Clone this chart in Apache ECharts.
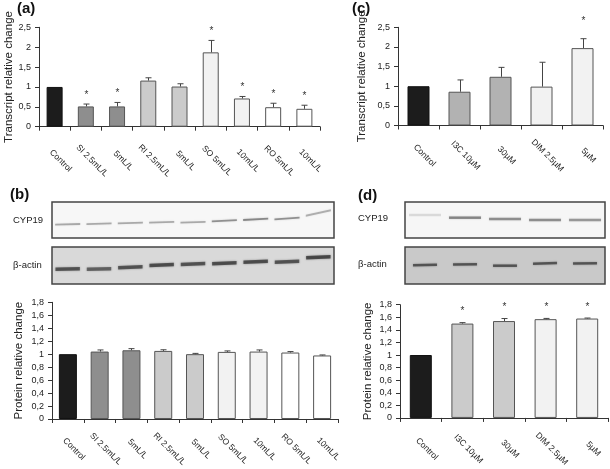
<!DOCTYPE html>
<html><head><meta charset="utf-8">
<script src="https://cdn.jsdelivr.net/npm/echarts@6/dist/echarts.min.js"></script>
<style>html,body{margin:0;padding:0;background:#fff}#c{width:610px;height:469px}</style>
</head><body><div id="c"></div>
<script>
// ---- data ----
const catA = ['Control','SI 2.5mL/L','5mL/L','RI 2.5mL/L','5mL/L','SO 5mL/L','10mL/L','RO 5mL/L','10mL/L'];
const valA = [1, 0.51, 0.51, 1.16, 1.01, 1.87, 0.71, 0.49, 0.45];
const errA = [0, 0.06, 0.10, 0.07, 0.07, 0.30, 0.05, 0.10, 0.09];
const sigA = [0, 1, 1, 0, 0, 1, 1, 1, 1];

const catC = ['Control','I3C 10µM','30µM','DIM 2.5µM','5µM'];
const valC = [1, 0.86, 1.24, 0.99, 1.97];
const errC = [0, 0.30, 0.24, 0.62, 0.24];
const sigC = [0, 0, 0, 0, 1];

const catB = catA;
const valB = [1, 1.04, 1.06, 1.05, 1.0, 1.035, 1.04, 1.025, 0.98];
const errB = [0, 0.025, 0.025, 0.018, 0.012, 0.015, 0.025, 0.015, 0.008];
const sigB = [0, 0, 0, 0, 0, 0, 0, 0, 0];

const catD = catC;
const valD = [1, 1.50, 1.54, 1.57, 1.58];
const errD = [0, 0.015, 0.04, 0.012, 0.008];
const sigD = [0, 1, 1, 1, 1];

const ticksTranscript = ['0','0,5','1','1,5','2','2,5'];
const ticksProtein = ['0','0,2','0,4','0,6','0,8','1','1,2','1,4','1,6','1,8'];

// blot bands: [lane, band position from strip top, intensity, tilt]
const blotB_CYP19 = [[0,22.3,0.32,0.6],[1,21.7,0.32,0.8],[2,21,0.32,0.8],[3,20.3,0.32,0.8],[4,20.3,0.32,0.8],[5,18.7,0.42,1.2],[6,17.3,0.45,1.4],[7,16.5,0.42,1.6],[8,11,0.3,5.5]];
const blotB_actin = [[0,22,0.62,0.4],[1,22,0.55,0.4],[2,20.3,0.62,1],[3,18,0.65,1.2],[4,17,0.62,1],[5,16.3,0.65,1],[6,14.7,0.65,1],[7,14.7,0.62,1],[8,10.3,0.68,1]];
const blotD_CYP19 = [[0,13,0.12,0],[1,15.7,0.45,0],[2,17,0.42,0],[3,18,0.42,0],[4,18,0.38,0]];
const blotD_actin = [[0,18,0.6,0.5],[1,17.3,0.6,0.3],[2,18.7,0.6,0],[3,16.3,0.6,0.8],[4,16.3,0.6,0.3]];
const lanesB = ['1','2','3','4','5','6','7','8','9'];
const lanesD = ['1','2','3','4','5'];

// ---- styles ----
const FF = 'Liberation Sans, Arial, sans-serif';
const colA = ['#1c1c1c','#8e8e8e','#8e8e8e','#cbcbcb','#cbcbcb','#f2f2f2','#f2f2f2','#ffffff','#ffffff'];
const colC = ['#1c1c1c','#b2b2b2','#b2b2b2','#f2f2f2','#f2f2f2'];
const colD = ['#1c1c1c','#cbcbcb','#cbcbcb','#f2f2f2','#f2f2f2'];

function barData(vals, cols){
  return vals.map((v,i)=>({value:v, itemStyle:{color:cols[i], borderColor: i===0 ? '#111' : '#555', borderWidth:1}}));
}
function errData(vals, errs, sigs){ return vals.map((v,i)=>[i, v, errs[i], sigs[i]]); }
function errRender(astOff){
  return function(params, api){
    const i = api.value(0), v = api.value(1), e = api.value(2), s = api.value(3);
    const p0 = api.coord([i, v]); const p1 = api.coord([i, v + e]);
    const x = Math.round(p0[0]) + 0.5;
    const ch = [];
    if (e > 0) {
      ch.push({type:'line', shape:{x1:x, y1:p0[1], x2:x, y2:p1[1]}, style:{stroke:'#444', lineWidth:1}});
      ch.push({type:'line', shape:{x1:x-3, y1:p1[1], x2:x+3, y2:p1[1]}, style:{stroke:'#444', lineWidth:1}});
    }
    if (s) ch.push({type:'text', x:x, y:p1[1]-astOff, style:{text:'*', fill:'#333', font:'10px ' + FF, align:'center', verticalAlign:'middle'}});
    return {type:'group', children:ch};
  };
}
function bandRender(frac, h){
  return function(params, api){
    const lane = api.value(0), y = api.value(1), a = api.value(2), tilt = api.value(3);
    const c = api.coord([lane, y]);
    const w = api.size([1, 0])[0] * frac;
    const d = tilt / 2;
    return {type:'polygon', shape:{points:[[c[0]-w/2, c[1]+d-h/2],[c[0]+w/2, c[1]-d-h/2],[c[0]+w/2, c[1]-d+h/2],[c[0]-w/2, c[1]+d+h/2]]},
      style:{fill:'rgba(35,35,35,'+a+')', shadowBlur:2, shadowColor:'rgba(35,35,35,'+a+')'}};
  };
}
function xCat(gi, cats, margin){
  return {gridIndex:gi, type:'category', data:cats,
    axisLine:{lineStyle:{color:'#333'}}, axisTick:{show:true, length:4, lineStyle:{color:'#333'}},
    axisLabel:{interval:0, rotate:-45, align:'center', verticalAlign:'middle', margin:margin, padding:[0,0,0,17], fontSize:8.5, color:'#222', fontFamily:FF}};
}
function yVal(gi, max, step, ticks, name, gap){
  return {gridIndex:gi, type:'value', min:0, max:max, interval:step,
    axisLine:{show:true, lineStyle:{color:'#333'}}, axisTick:{show:true, length:4, lineStyle:{color:'#333'}},
    splitLine:{show:false},
    axisLabel:{fontSize:9, color:'#222', margin:8, fontFamily:FF, formatter:(v)=>ticks[Math.round(v/step)]},
    name:name, nameLocation:'middle', nameGap:gap, nameTextStyle:{fontSize:11.5, color:'#222', fontFamily:FF}};
}
function blotX(gi, lanes){ return {gridIndex:gi, type:'category', data:lanes, show:false}; }
function blotY(gi, h){ return {gridIndex:gi, type:'value', min:0, max:h, inverse:true, show:false}; }

const option = {
  animation:false,
  backgroundColor:'#fff',
  grid:[
    {left:39, top:27.3, width:281, height:99.4},
    {left:398, top:27.3, width:205, height:98.2},
    {left:52, top:302.3, width:286, height:120},
    {left:400, top:304.7, width:208, height:116},
    {left:52, top:202, width:282, height:36, show:true, backgroundColor:'#f7f7f7', borderColor:'#444', borderWidth:1.5},
    {left:52, top:247, width:282, height:37, show:true, backgroundColor:'#d9d9d9', borderColor:'#444', borderWidth:1.5},
    {left:405, top:202, width:200, height:36, show:true, backgroundColor:'#f6f6f6', borderColor:'#444', borderWidth:1.5},
    {left:405, top:247, width:200, height:37, show:true, backgroundColor:'#c9c9c9', borderColor:'#444', borderWidth:1.5}
  ],
  xAxis:[
    xCat(0, catA, 28), xCat(1, catC, 24), xCat(2, catB, 24), xCat(3, catD, 25),
    blotX(4, lanesB), blotX(5, lanesB), blotX(6, lanesD), blotX(7, lanesD)
  ],
  yAxis:[
    yVal(0, 2.5, 0.5, ticksTranscript, 'Transcript relative change', 24),
    yVal(1, 2.5, 0.5, ticksTranscript, 'Transcript relative change', 30),
    yVal(2, 1.8, 0.2, ticksProtein, 'Protein relative change', 27),
    yVal(3, 1.8, 0.2, ticksProtein, 'Protein relative change', 26),
    blotY(4, 36), blotY(5, 37), blotY(6, 36), blotY(7, 37)
  ],
  series:[
    {type:'bar', xAxisIndex:0, yAxisIndex:0, barWidth:16, data:barData(valA, colA)},
    {type:'custom', xAxisIndex:0, yAxisIndex:0, z:5, renderItem:errRender(9), encode:{x:0, y:1}, data:errData(valA, errA, sigA)},
    {type:'bar', xAxisIndex:1, yAxisIndex:1, barWidth:22, data:barData(valC, colC)},
    {type:'custom', xAxisIndex:1, yAxisIndex:1, z:5, renderItem:errRender(17), encode:{x:0, y:1}, data:errData(valC, errC, sigC)},
    {type:'bar', xAxisIndex:2, yAxisIndex:2, barWidth:18, data:barData(valB, colA)},
    {type:'custom', xAxisIndex:2, yAxisIndex:2, z:5, renderItem:errRender(10), encode:{x:0, y:1}, data:errData(valB, errB, sigB)},
    {type:'bar', xAxisIndex:3, yAxisIndex:3, barWidth:22, data:barData(valD, colD)},
    {type:'custom', xAxisIndex:3, yAxisIndex:3, z:5, renderItem:errRender(11), encode:{x:0, y:1}, data:errData(valD, errD, sigD)},
    {type:'custom', xAxisIndex:4, yAxisIndex:4, renderItem:bandRender(0.8, 1.8), encode:{x:0, y:1}, data:blotB_CYP19},
    {type:'custom', xAxisIndex:5, yAxisIndex:5, renderItem:bandRender(0.78, 3.5), encode:{x:0, y:1}, data:blotB_actin},
    {type:'custom', xAxisIndex:6, yAxisIndex:6, renderItem:bandRender(0.8, 2.5), encode:{x:0, y:1}, data:blotD_CYP19},
    {type:'custom', xAxisIndex:7, yAxisIndex:7, renderItem:bandRender(0.6, 2.5), encode:{x:0, y:1}, data:blotD_actin}
  ],
  graphic:[
    {type:'text', x:17, y:8.5, style:{text:'(a)', font:'bold 15px ' + FF, fill:'#111', verticalAlign:'middle'}},
    {type:'text', x:352, y:8.5, style:{text:'(c)', font:'bold 15px ' + FF, fill:'#111', verticalAlign:'middle'}},
    {type:'text', x:10, y:195, style:{text:'(b)', font:'bold 15px ' + FF, fill:'#111', verticalAlign:'middle'}},
    {type:'text', x:358, y:196, style:{text:'(d)', font:'bold 15px ' + FF, fill:'#111', verticalAlign:'middle'}},
    {type:'text', x:13, y:220, style:{text:'CYP19', font:'9.5px ' + FF, fill:'#222', verticalAlign:'middle'}},
    {type:'text', x:13, y:265, style:{text:'β-actin', font:'9.5px ' + FF, fill:'#222', verticalAlign:'middle'}},
    {type:'text', x:358, y:218, style:{text:'CYP19', font:'9.5px ' + FF, fill:'#222', verticalAlign:'middle'}},
    {type:'text', x:358, y:264, style:{text:'β-actin', font:'9.5px ' + FF, fill:'#222', verticalAlign:'middle'}}
  ]
};
const chart = echarts.init(document.getElementById('c'), null, {renderer:'canvas'});
chart.setOption(option);
</script></body></html>
